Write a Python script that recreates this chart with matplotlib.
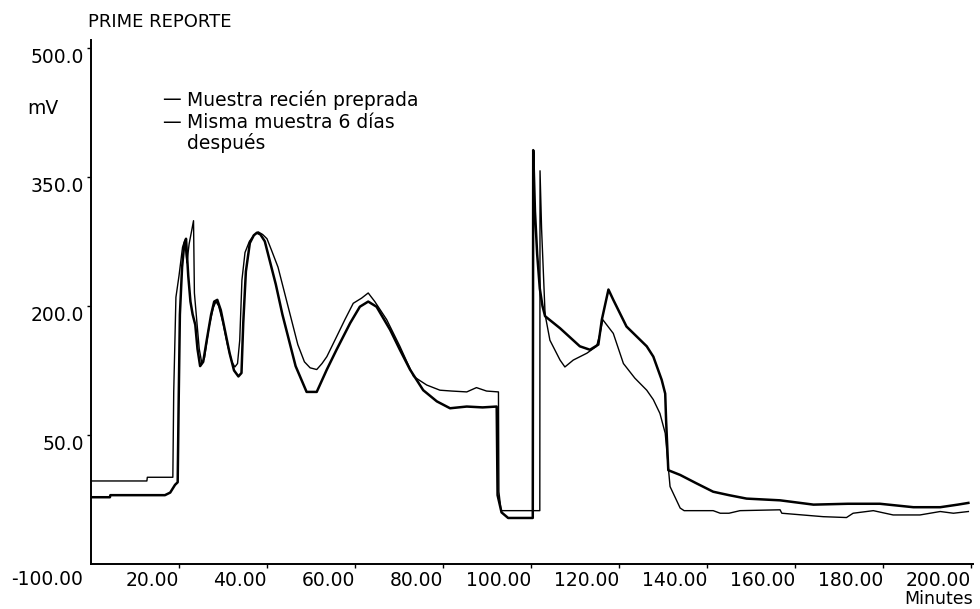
import numpy as np
import matplotlib
matplotlib.use("Agg")
import matplotlib.pyplot as plt

plt.rcParams['font.family'] = ['DejaVu Sans']

# Series labels
labels = ["Muestra recién preprada", "Misma muestra 6 días\ndespués"]

# Muestra recien preparada (thin trace): minutes, mV
t_fresh = [0, 12.7, 12.8, 18.6, 18.8, 19.3, 20.0, 20.8, 21.3, 21.8, 22.3, 22.9, 23.3, 23.5,
           24.0, 24.6, 25.2, 25.8, 26.8, 27.8, 28.4, 29.0, 30.0, 31.0, 32.0, 32.7, 33.3, 33.8,
           34.3, 35.0, 36.0, 37.0, 38.0, 39.0, 40.0, 41.0, 42.5, 44.0, 45.5, 47.0, 48.5, 49.8,
           51.3, 52.5, 53.6, 55.8, 57.7, 59.6, 61.5, 63.0, 64.5, 67.2, 70.2, 73.3, 76.3, 79.3,
           82.0, 85.4, 87.6, 89.9, 92.6, 92.7, 93.2, 102.0, 102.05, 102.4, 102.8, 103.2, 104.3,
           106.6, 107.7, 109.6, 112.7, 114.9, 115.7, 116.3, 118.7, 121.0, 123.6, 126.3, 127.8,
           129.3, 130.5, 131.6, 133.9, 134.8, 141.4, 143.0, 145.0, 147.5, 156.6, 157.0, 166.4,
           171.7, 173.2, 177.8, 182.3, 188.4, 193.0, 196.0, 199.4]
v_fresh = [-3.5, -3.5, 0.8, 0.8, 100, 210, 235, 268, 276, 250, 272, 288, 299, 215,
           185, 150, 133, 140, 175, 198, 205, 200, 180, 155, 135, 129, 133, 160,
           230, 262, 275, 282, 286, 283, 278, 265, 245, 215, 185, 155, 135, 128,
           126, 133, 141, 164, 184, 203, 209, 215, 205, 184, 153, 118, 108, 102,
           101, 100, 105, 101, 100, -16, -38, -38, 357, 290, 240, 190, 160,
           137, 129, 137, 145, 153, 168, 184, 168, 133, 116, 102, 91,
           75, 52, -10, -35, -38, -38, -41, -41, -38, -37, -41, -45,
           -46, -41, -38, -43, -43, -39, -41, -39]

# Misma muestra 6 dias despues (thick trace): minutes, mV
t_aged = [0, 4.3, 4.4, 16.8, 18.0, 19.1, 19.7, 19.9, 20.2, 20.7, 21.2, 21.6, 22.1, 22.6,
          23.1, 23.7, 24.2, 24.8, 25.5, 26.3, 27.3, 28.0, 28.7, 29.5, 30.5, 31.5, 32.5, 33.5,
          34.2, 34.6, 35.2, 36.1, 37.0, 37.7, 38.5, 39.5, 40.5, 42.0, 43.5, 45.0, 46.5, 47.5,
          49.0, 51.3, 53.6, 55.8, 58.9, 61.1, 63.0, 64.9, 68.0, 70.2, 72.5, 75.5, 78.6, 81.6,
          85.4, 89.0, 92.2, 92.4, 93.3, 94.8, 100.4, 100.5, 100.9, 101.4, 102.0, 102.6, 103.2,
          106.6, 111.1, 113.4, 115.3, 116.1, 117.6, 118.7, 121.7, 126.3, 127.8, 129.7, 130.5,
          130.7, 131.2, 133.9, 137.5, 141.4, 145.0, 149.0, 156.6, 164.2, 172.0, 179.3, 186.9,
          193.0, 197.0, 199.4]
v_aged = [-22.4, -22.4, -20, -20, -17, -8, -5, 80, 190, 245, 272, 278, 235, 205,
          190, 178, 150, 130, 135, 160, 190, 205, 207, 195, 170, 145, 125, 118,
          122, 180, 240, 273, 282, 285, 283, 275, 255, 225, 190, 160, 130, 118,
          100, 100, 126, 149, 180, 199, 205, 199, 172, 149, 126, 102, 89, 81,
          83, 82, 83, -20, -40, -46.5, -46.5, 381, 310, 260, 220, 200, 188,
          174, 153, 149, 155, 184, 219, 207, 176, 153, 141, 114, 98,
          67, 9, 3.5, -6, -16, -20, -24, -26, -31, -30, -30, -34,
          -34, -31, -29]

x_ticks = [20, 40, 60, 80, 100, 120, 140, 160, 180, 200]
y_ticks = [50, 200, 350, 500]

fs = 13.5

fig = plt.figure(figsize=(9.8, 6.09), dpi=100)
ax = fig.add_axes([91 / 980, 1 - 564 / 609, 882 / 980, 524 / 609])

ax.plot(t_fresh, v_fresh, color='black', lw=1.0)
ax.plot(t_aged, v_aged, color='black', lw=1.8)

ax.set_xlim(0, 200.45)
ax.set_ylim(-100, 509)

for s in ['top', 'right']:
    ax.spines[s].set_visible(False)
for s in ['left', 'bottom']:
    ax.spines[s].set_linewidth(1.4)

ax.set_xticks(x_ticks)
ax.set_xticklabels([f"{x:.2f}" for x in x_ticks], ha='right', fontsize=fs)
ax.set_yticks(y_ticks)
ax.set_yticklabels([f"{y:.1f}" for y in y_ticks], va='top', fontsize=fs)
ax.tick_params(axis='both', direction='out', length=3, width=1, pad=2)

# corner label for the y-axis minimum
ax.annotate("-100.00", xy=(0, -100), xycoords='data', xytext=(-6, -4),
            textcoords='offset points', ha='right', va='top', fontsize=fs)
ax.text(1.0, -0.05, "Minutes", transform=ax.transAxes, ha='right', va='top', fontsize=fs - 1)
ax.text(-0.003, 1.0334, "PRIME REPORTE", transform=ax.transAxes, ha='left', va='center', fontsize=fs - 0.5)
ax.text(-0.072, 0.87, "mV", transform=ax.transAxes, ha='left', va='center', fontsize=fs)

# legend drawn as text lines
leg_y = [0.8855, 0.8435]
for y, lab in zip(leg_y, [labels[0], labels[1].split("\n")[0]]):
    ax.text(0.0805, y, "\u2014", transform=ax.transAxes, ha='left', va='center', fontsize=fs)
    ax.text(0.1088, y, lab, transform=ax.transAxes, ha='left', va='center', fontsize=fs)
ax.text(0.1088, 0.8034, labels[1].split("\n")[1], transform=ax.transAxes,
        ha='left', va='center', fontsize=fs)

fig.savefig("out.png", dpi=100)
